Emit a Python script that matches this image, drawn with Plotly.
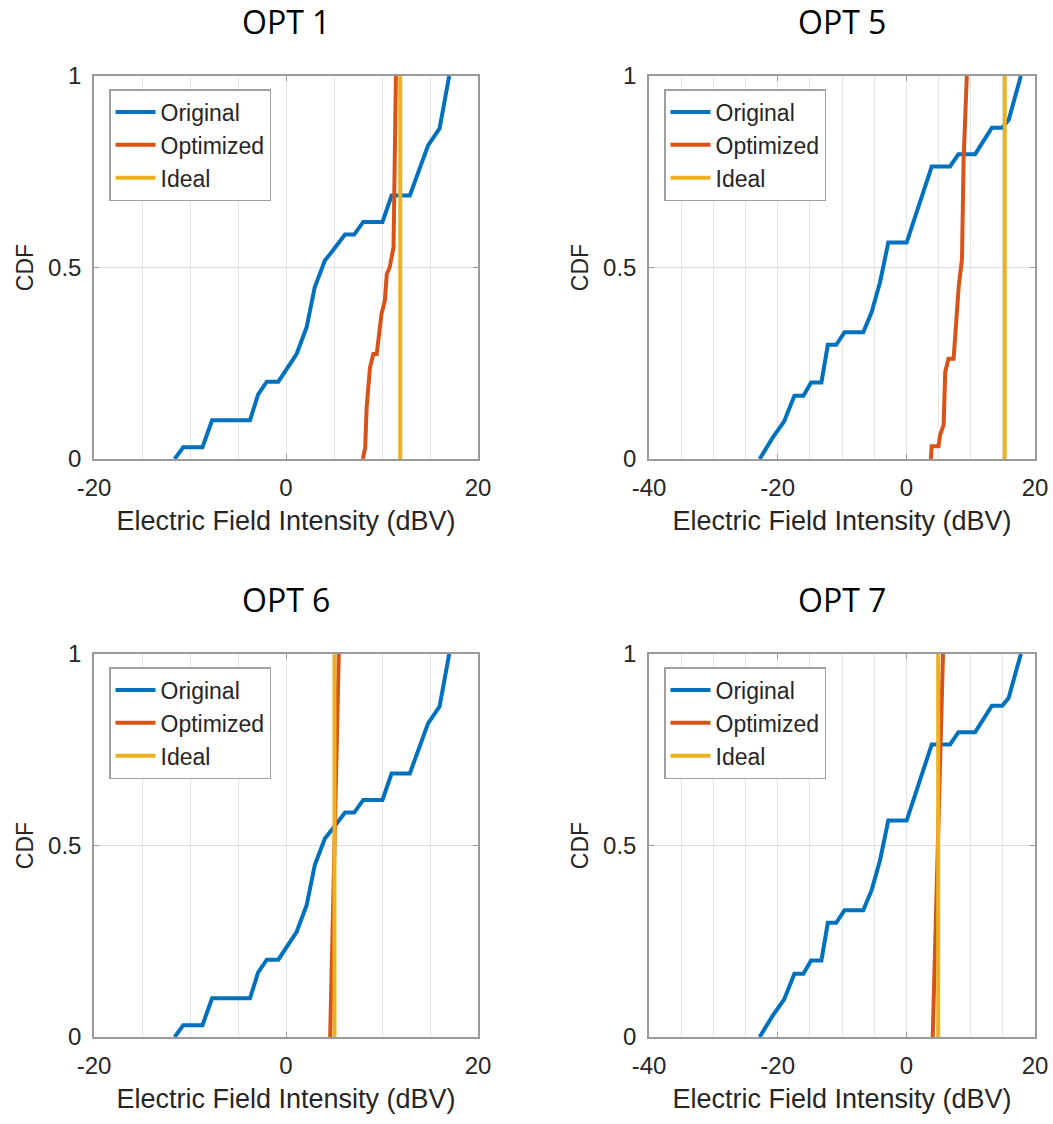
import plotly.graph_objects as go

# ---------------- data ----------------
titles = ["OPT 1", "OPT 5", "OPT 6", "OPT 7"]

# Original CDF (OPT 1 / OPT 6 share it)
orig_a_x = [-11.6, -10.7, -8.7, -7.7, -3.75, -2.9, -2.0, -0.8, 1.1, 2.15, 3.0, 4.05, 4.9, 6.15, 7.1, 8.05, 10.05, 11.0, 12.9, 14.8, 16.0, 17.0]
orig_a_y = [0.0, 0.031, 0.031, 0.101, 0.101, 0.169, 0.202, 0.202, 0.274, 0.344, 0.449, 0.518, 0.545, 0.586, 0.586, 0.619, 0.619, 0.688, 0.688, 0.819, 0.863, 1.0]

# Original CDF (OPT 5 / OPT 7 share it)
orig_b_x = [-22.8, -20.8, -19.0, -17.4, -16.0, -14.8, -13.2, -12.2, -10.9, -9.6, -6.7, -5.4, -4.1, -2.8, 0.05, 3.95, 6.8, 8.1, 10.7, 13.3, 14.9, 15.9, 17.8]
orig_b_y = [0.0, 0.055, 0.098, 0.165, 0.165, 0.2, 0.2, 0.298, 0.298, 0.331, 0.331, 0.383, 0.461, 0.565, 0.565, 0.764, 0.764, 0.796, 0.796, 0.865, 0.865, 0.885, 1.0]

# Optimized CDFs
opt1_x = [8.0, 8.25, 8.4, 8.75, 9.1, 9.45, 9.95, 10.3, 10.5, 10.8, 11.2, 11.35, 11.45]
opt1_y = [0.0, 0.03, 0.134, 0.239, 0.274, 0.274, 0.379, 0.414, 0.483, 0.5, 0.553, 0.78, 1.0]

opt5_x = [3.8, 3.95, 5.0, 5.25, 5.8, 6.05, 6.55, 7.35, 8.15, 8.65, 8.9, 9.4]
opt5_y = [0.0, 0.033, 0.033, 0.063, 0.089, 0.228, 0.262, 0.262, 0.452, 0.522, 0.781, 1.0]

opt6_x = [4.6, 5.05, 5.5]
opt6_y = [0.0, 0.5, 1.0]

opt7_x = [4.1, 4.9, 5.6, 5.7]
opt7_y = [0.0, 0.5, 0.9, 1.0]

# Ideal values (vertical lines)
ideal_vals = [11.9, 15.3, 5.05, 4.95]

x_ranges = [[-20, 20], [-40, 20], [-20, 20], [-40, 20]]
x_tickvals = [[-20, 0, 20], [-40, -20, 0, 20], [-20, 0, 20], [-40, -20, 0, 20]]
x_ticktext = [["-20", "0", "20"], ["-40", "-20", "0", "20"], ["-20", "0", "20"], ["-40", "-20", "0", "20"]]
y_tickvals = [0, 0.5, 1]
y_ticktext = ["0", "0.5", "1"]

series = [
    (orig_a_x, orig_a_y, opt1_x, opt1_y),
    (orig_b_x, orig_b_y, opt5_x, opt5_y),
    (orig_a_x, orig_a_y, opt6_x, opt6_y),
    (orig_b_x, orig_b_y, opt7_x, opt7_y),
]

# ---------------- layout geometry ----------------
W, H = 1053, 1124
cols = [(94, 478), (649, 1035)]
rows = [(76, 459), (654, 1037)]

BLUE = "#0072BD"
RED = "#D95319"
YELLOW = "#EDB120"
FRAME = "#9a9a9a"
GRID = "#e6e6e6"
TXT = "#262626"
SANS = "Liberation Sans, Arial, sans-serif"

fig = go.Figure()
annotations = []
layout_upd = {}

for i in range(4):
    r, c = divmod(i, 2)
    x0, x1 = cols[c]
    y0, y1 = rows[r]
    xa = "x" if i == 0 else f"x{i+1}"
    ya = "y" if i == 0 else f"y{i+1}"
    lg = "legend" if i == 0 else f"legend{i+1}"
    ox, oy, px_, py_ = series[i]

    fig.add_trace(go.Scatter(x=ox, y=oy, mode="lines", name="Original",
                             line=dict(color=BLUE, width=4), xaxis=xa, yaxis=ya,
                             legend=lg, legendgroup=f"o{i}"))
    fig.add_trace(go.Scatter(x=px_, y=py_, mode="lines", name="Optimized",
                             line=dict(color=RED, width=4), xaxis=xa, yaxis=ya,
                             legend=lg, legendgroup=f"p{i}"))
    fig.add_trace(go.Scatter(x=[ideal_vals[i], ideal_vals[i]], y=[0, 1], mode="lines", name="Ideal",
                             line=dict(color=YELLOW, width=4), xaxis=xa, yaxis=ya,
                             legend=lg, legendgroup=f"i{i}"))

    xkey = "xaxis" if i == 0 else f"xaxis{i+1}"
    ykey = "yaxis" if i == 0 else f"yaxis{i+1}"
    layout_upd[xkey] = dict(
        domain=[x0 / W, x1 / W], anchor=ya, range=x_ranges[i], automargin=False,
        tickvals=x_tickvals[i], ticktext=x_ticktext[i],
        showline=True, mirror="ticks", linecolor=FRAME, linewidth=1.5,
        ticks="inside", ticklen=5, tickcolor=FRAME, showgrid=True, gridcolor=GRID, gridwidth=1,
        zeroline=False, tickfont=dict(family=SANS, size=24, color=TXT),
        ticklabelstandoff=6,
        minor=dict(dtick=5, showgrid=True, gridcolor=GRID, gridwidth=1, ticks=""),
        title=dict(text="Electric Field Intensity (dBV)", font=dict(family=SANS, size=27, color=TXT), standoff=12),
        fixedrange=True,
    )
    layout_upd[ykey] = dict(
        domain=[1 - y1 / H, 1 - y0 / H], anchor=xa, range=[0, 1], automargin=False,
        tickvals=y_tickvals, ticktext=y_ticktext, showline=True, mirror="ticks", linecolor=FRAME, linewidth=1.5,
        ticks="inside", ticklen=5, tickcolor=FRAME, showgrid=True, gridcolor="#dcdcdc", gridwidth=1,
        zeroline=False, tickfont=dict(family=SANS, size=24, color=TXT),
        ticklabelstandoff=6,
        title=dict(text="CDF", font=dict(family=SANS, size=23, color=TXT), standoff=8),
        fixedrange=True,
    )
    layout_upd[lg] = dict(
        x=(x0 + 15) / W, y=1 - (y0 + 13) / H, xanchor="left", yanchor="top",
        bgcolor="white", bordercolor="#a0a0a0", borderwidth=1.5,
        font=dict(family=SANS, size=23, color=TXT), tracegroupgap=0, traceorder="grouped",
        itemwidth=40,
    )
    annotations.append(dict(
        text=titles[i], x=(x0 + x1) / 2 / W, y=1 - (y0 - 54) / H, xref="paper", yref="paper",
        xanchor="center", yanchor="middle", showarrow=False,
        font=dict(family="Open Sans, sans-serif", size=32, color="black"),
    ))

fig.update_layout(
    width=W, height=H, margin=dict(l=0, r=0, t=0, b=0, autoexpand=False),
    paper_bgcolor="white", plot_bgcolor="white",
    annotations=annotations, showlegend=True,
    **layout_upd,
)

fig.write_html("out.html")
